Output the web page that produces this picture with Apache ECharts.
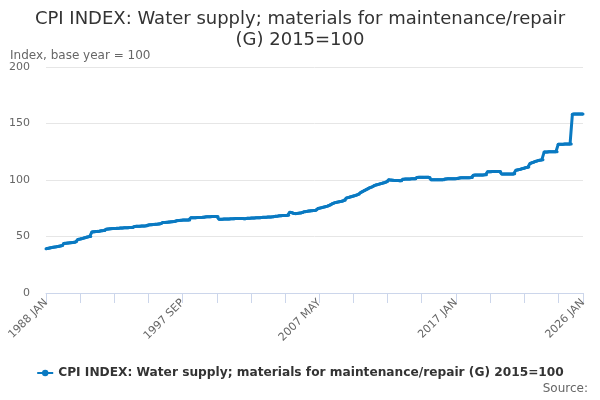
<!DOCTYPE html>
<html>
<head>
<meta charset="utf-8">
<script src="https://cdn.jsdelivr.net/npm/echarts@6/dist/echarts.min.js"></script>
<style>
  html, body { margin: 0; padding: 0; background: #fff; }
  #chart { width: 600px; height: 400px; }
</style>
</head>
<body>
<div id="chart"></div>
<script>
var monthNames = ['JAN', 'FEB', 'MAR', 'APR', 'MAY', 'JUN', 'JUL', 'AUG', 'SEP', 'OCT', 'NOV', 'DEC'];
var firstYear = 1988;
var lastYear = 2026;

// monthly index values, one row per year (1988 JAN .. 2026 JAN)
var cpiValues = [
    39.2, 39.4, 39.6, 39.8, 40.0, 40.2, 40.4, 40.6, 40.8, 41.0, 41.2, 41.4,
    41.6, 41.8, 42.0, 43.8, 44.0, 44.1, 44.2, 44.3, 44.4, 44.5, 44.6, 44.7,
    45.0, 45.2, 45.5, 47.4, 47.6, 47.8, 48.0, 48.3, 48.6, 48.9, 49.2, 49.5,
    49.7, 49.9, 50.1, 54.0, 54.2, 54.3, 54.4, 54.5, 54.6, 54.7, 54.8, 55.0,
    55.1, 55.2, 55.3, 56.5, 56.6, 56.7, 56.8, 56.9, 57.0, 57.0, 57.1, 57.1,
    57.2, 57.2, 57.3, 57.5, 57.6, 57.6, 57.7, 57.7, 57.8, 57.8, 57.8, 57.9,
    57.9, 58.0, 58.0, 58.8, 58.9, 59.0, 59.0, 59.1, 59.1, 59.2, 59.2, 59.3,
    59.4, 59.5, 59.6, 60.2, 60.3, 60.4, 60.5, 60.6, 60.7, 60.8, 60.9, 61.0,
    61.1, 61.3, 61.5, 62.3, 62.4, 62.5, 62.6, 62.7, 62.8, 62.9, 63.0, 63.1,
    63.2, 63.3, 63.4, 64.0, 64.1, 64.2, 64.3, 64.4, 64.5, 64.5, 64.6, 64.6,
    64.6, 64.7, 64.7, 66.5, 66.6, 66.6, 66.7, 66.7, 66.8, 66.8, 66.8, 66.9,
    66.9, 67.0, 67.0, 67.3, 67.4, 67.4, 67.5, 67.5, 67.5, 67.6, 67.6, 67.6,
    67.6, 67.7, 67.7, 65.2, 65.2, 65.3, 65.3, 65.4, 65.4, 65.4, 65.5, 65.5,
    65.5, 65.6, 65.6, 65.8, 65.8, 65.9, 65.9, 66.0, 66.0, 66.0, 65.9, 65.9,
    65.8, 65.8, 65.9, 66.1, 66.2, 66.2, 66.3, 66.3, 66.4, 66.4, 66.5, 66.5,
    66.6, 66.6, 66.7, 66.9, 67.0, 67.0, 67.1, 67.1, 67.2, 67.2, 67.3, 67.3,
    67.4, 67.5, 67.6, 67.9, 68.0, 68.1, 68.3, 68.4, 68.4, 68.5, 68.5, 68.6,
    68.6, 68.7, 68.7, 71.5, 71.3, 71.0, 70.6, 70.3, 70.2, 70.3, 70.5, 70.7,
    70.9, 71.1, 71.3, 71.8, 72.0, 72.2, 72.3, 72.5, 72.6, 72.7, 72.8, 72.9,
    73.0, 73.3, 73.6, 74.8, 75.0, 75.3, 75.5, 75.8, 76.0, 76.3, 76.6, 76.9,
    77.3, 77.8, 78.2, 79.0, 79.4, 79.8, 80.1, 80.4, 80.6, 80.8, 81.0, 81.2,
    81.5, 81.8, 82.1, 84.0, 84.3, 84.6, 84.9, 85.2, 85.5, 85.8, 86.1, 86.4,
    86.7, 87.2, 87.7, 88.8, 89.4, 89.9, 90.5, 91.0, 91.6, 92.1, 92.7, 93.2,
    93.6, 94.0, 94.4, 95.2, 95.5, 95.8, 96.1, 96.4, 96.7, 97.0, 97.3, 97.6,
    97.9, 98.3, 98.7, 100.2, 100.0, 99.9, 99.8, 99.7, 99.6, 99.6, 99.5, 99.5,
    99.4, 99.4, 99.4, 100.6, 100.7, 100.8, 100.8, 100.9, 100.9, 100.9, 101.0, 101.0,
    101.0, 101.0, 101.1, 102.3, 102.4, 102.4, 102.4, 102.5, 102.5, 102.5, 102.5, 102.4,
    102.4, 102.4, 102.3, 100.3, 100.2, 100.2, 100.2, 100.2, 100.3, 100.3, 100.3, 100.3,
    100.3, 100.3, 100.3, 100.9, 100.9, 101.0, 101.0, 101.0, 101.1, 101.1, 101.1, 101.2,
    101.2, 101.3, 101.3, 101.8, 101.9, 101.9, 102.0, 102.0, 102.0, 102.1, 102.1, 102.1,
    102.1, 102.2, 102.2, 104.3, 104.4, 104.4, 104.4, 104.5, 104.5, 104.5, 104.5, 104.5,
    104.6, 104.6, 104.6, 107.3, 107.4, 107.4, 107.4, 107.5, 107.5, 107.5, 107.5, 107.5,
    107.5, 107.5, 107.5, 105.3, 105.3, 105.3, 105.3, 105.3, 105.4, 105.4, 105.4, 105.4,
    105.4, 105.4, 105.5, 108.6, 108.8, 109.0, 109.3, 109.6, 109.9, 110.2, 110.5, 110.8,
    111.0, 111.2, 111.4, 114.6, 115.0, 115.4, 115.8, 116.2, 116.6, 116.9, 117.2, 117.5,
    117.7, 117.8, 117.9, 124.7, 124.8, 124.8, 124.8, 124.9, 124.9, 124.9, 124.9, 125.0,
    125.0, 125.0, 125.0, 131.6, 131.7, 131.7, 131.7, 131.7, 131.8, 131.8, 131.8, 131.8,
    131.8, 131.8, 131.8, 158.2, 158.3, 158.3, 158.3, 158.4, 158.4, 158.4, 158.4, 158.4,
    158.5
];

var monthLabels = [];
for (var y = firstYear; y <= lastYear; y++) {
    for (var m = 0; m < 12; m++) {
        if (y === lastYear && m > 0) break;
        monthLabels.push(y + ' ' + monthNames[m]);
    }
}
var lastIndex = monthLabels.length - 1;

var seriesName = 'CPI INDEX: Water supply; materials for maintenance/repair (G) 2015=100';

var dom = document.getElementById('chart');
var myChart = echarts.init(dom, null, { renderer: 'canvas' });

var option = {
    animation: false,
    textStyle: { fontFamily: 'DejaVu Sans' },
    title: [{
        text: 'CPI INDEX: Water supply; materials for maintenance/repair\n(G) 2015=100',
        left: 'center',
        top: 4,
        textStyle: { fontSize: 18, fontWeight: 'normal', color: '#333', lineHeight: 21, fontFamily: 'DejaVu Sans' }
    }, {
        text: 'Index, base year = 100',
        left: 5,
        top: 45,
        textStyle: { fontSize: 12, fontWeight: 'normal', color: '#666', fontFamily: 'DejaVu Sans' }
    }, {
        text: 'Source:',
        right: 7,
        top: 378,
        textStyle: { fontSize: 12, fontWeight: 'normal', color: '#666', fontFamily: 'DejaVu Sans' }
    }],
    legend: {
        data: [seriesName],
        bottom: 16,
        left: 'center',
        itemWidth: 16,
        itemHeight: 8,
        textStyle: { fontSize: 12.2, fontWeight: 'bold', color: '#333', fontFamily: 'DejaVu Sans' }
    },
    grid: { left: 46, right: 17, top: 67, bottom: 107 },
    xAxis: {
        type: 'category',
        data: monthLabels,
        boundaryGap: false,
        axisLine: { lineStyle: { color: '#ccd6eb' } },
        axisTick: {
            length: 10,
            lineStyle: { color: '#ccd6eb' },
            interval: function (i) { return i % 29 === 0 || i === lastIndex; }
        },
        axisLabel: {
            rotate: 45,
            color: '#666',
            fontSize: 11,
            hideOverlap: false,
            interval: function (i) { return i % 116 === 0 || i === lastIndex; }
        },
        splitLine: { show: false }
    },
    yAxis: {
        type: 'value',
        min: 0,
        max: 200,
        interval: 50,
        axisLine: { show: false },
        axisTick: { show: false },
        axisLabel: { color: '#666', fontSize: 11, margin: 16 },
        splitLine: { lineStyle: { color: '#e6e6e6' } }
    },
    series: [{
        name: seriesName,
        type: 'line',
        data: cpiValues,
        color: '#0a7ac2',
        symbol: 'circle',
        symbolSize: 3,
        showSymbol: true,
        showAllSymbol: true,
        lineStyle: { width: 3 }
    }]
};

if (option && typeof option === 'object') {
    myChart.setOption(option);
}

window.addEventListener('resize', myChart.resize);
</script>
</body>
</html>
